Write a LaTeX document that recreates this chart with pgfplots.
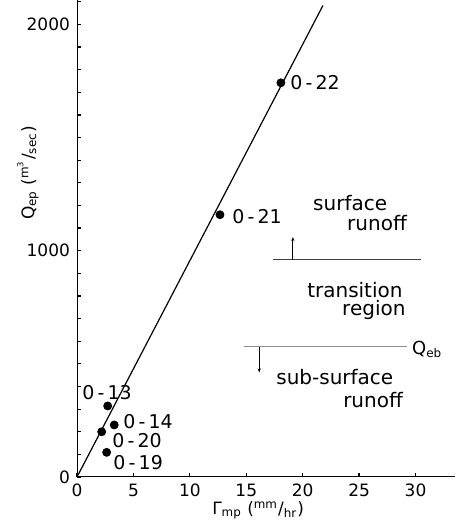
\documentclass[border=0pt]{standalone}
\usepackage{fontspec}
\setmainfont{DejaVu Sans}
\usepackage{pgfplots}
\pgfplotsset{compat=1.18}
\usetikzlibrary{arrows.meta}
\begin{document}
\begin{tikzpicture}
\path[use as bounding box] (-38.5pt,-22.5pt) rectangle (191pt,238.5pt);
\begin{axis}[
  at={(0,0)}, anchor=south west,
  scale only axis, width=189pt, height=238.5pt,
  xmin=0, xmax=33.5, ymin=0, ymax=2108,
  axis x line=bottom, axis y line=left,
  axis line style={-, line width=0.5pt},
  xtick={0,5,10,15,20,25,30},
  ytick={0,1000,2000},
  minor ytick={100,200,300,400,500,600,700,800,900,1100,1200,1300,1400,1500,1600,1700,1800,1900,2100},
  xtick align=inside, ytick align=inside,
  major tick length=1.8pt, minor tick length=1.8pt,
  major tick style={line width=0.6pt, black},
  minor tick style={line width=0.6pt, black},
  tick label style={font=\fontsize{8.5}{10}\selectfont},
  /pgf/number format/assume math mode=true,
  /pgf/number format/1000 sep={},
  xlabel={Γ\textsubscript{mp} (\textsuperscript{mm}/\textsubscript{hr})},
  ylabel={Q\textsubscript{ep} (\textsuperscript{m\textsuperscript{3}}/\textsubscript{sec})},
  every axis x label/.style={at={(axis description cs:0.479,-0.069)}, anchor=center, font=\fontsize{8.5}{10}\selectfont},
  every axis y label/.style={at={(axis description cs:-0.13,0.637)}, rotate=90, anchor=center, font=\fontsize{8.5}{10}\selectfont},
  clip=false,
]
\addplot[black, line width=0.6pt] coordinates {(0,0) (21.8,2084)};
\addplot[only marks, mark=*, mark size=2pt, black] coordinates {
  (18.07,1742) (12.67,1159) (2.72,314) (3.30,230) (2.19,200) (2.63,109)
};
% region boundaries
\addplot[black!75, line width=0.5pt] coordinates {(17.36,959) (30.47,959)};
\addplot[black!45, line width=0.7pt] coordinates {(14.79,576) (29.23,576)};
\addplot[black, line width=0.4pt, -{Stealth[length=2pt,width=1.6pt]}] coordinates {(19.13,959) (19.13,1060)};
\addplot[black, line width=0.4pt, -{Stealth[length=2pt,width=1.6pt]}] coordinates {(16.15,576) (16.15,462)};
% labels
\begin{scope}[every node/.style={font=\fontsize{9.5}{11}\selectfont, inner sep=0pt, anchor=west}]
\node at (axis cs:18.87,1741) {0\,-\,22};
\node at (axis cs:13.73,1149) {0\,-\,21};
\node at (axis cs:0.44,371) {0\,-\,13};
\node at (axis cs:4.07,243) {0\,-\,14};
\node at (axis cs:3.10,159) {0\,-\,20};
\node at (axis cs:3.19,62) {0\,-\,19};
\end{scope}
\begin{scope}[every node/.style={font=\fontsize{10}{12}\selectfont, inner sep=0pt, anchor=west}]
\node at (axis cs:20.90,1211) {surface};
\node at (axis cs:23.91,1122) {runoff};
\node at (axis cs:20.37,826) {transition};
\node at (axis cs:23.47,738) {region};
\node at (axis cs:17.63,442) {sub-surface};
\node at (axis cs:23.56,339) {runoff};
\node[font=\fontsize{9}{10}\selectfont] at (axis cs:29.67,563) {Q\textsubscript{eb}};
\end{scope}
\end{axis}
\end{tikzpicture}
\end{document}
